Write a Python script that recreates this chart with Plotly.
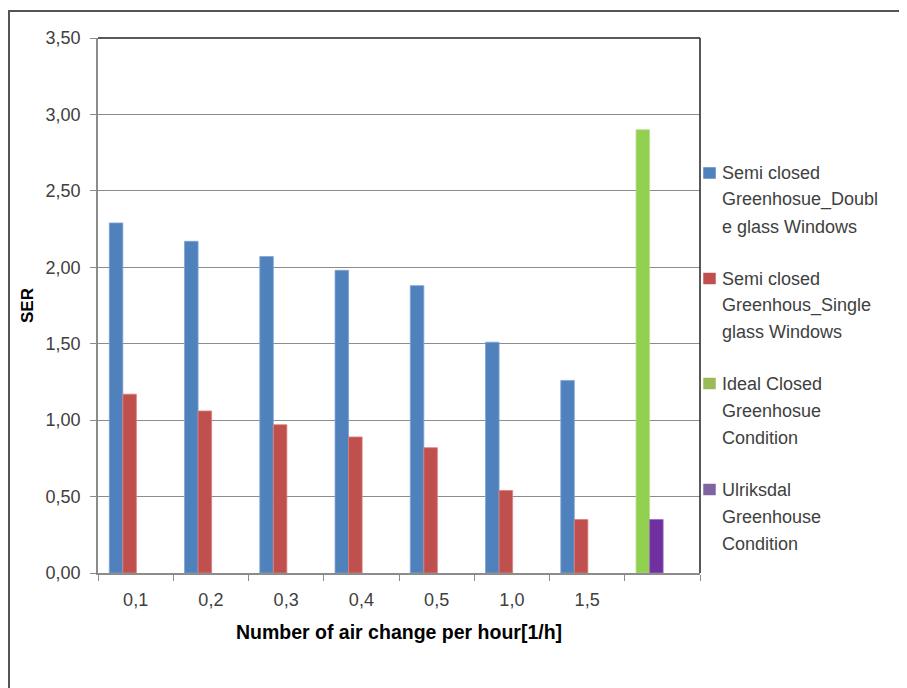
import plotly.graph_objects as go

categories = ["0,1", "0,2", "0,3", "0,4", "0,5", "1,0", "1,5", " "]
double_glass = [2.29, 2.17, 2.07, 1.98, 1.88, 1.51, 1.26, None]
single_glass = [1.17, 1.06, 0.97, 0.89, 0.82, 0.54, 0.35, None]
ideal_closed = [None, None, None, None, None, None, None, 2.90]
ulriksdal = [None, None, None, None, None, None, None, 0.35]

legend_lines = [
    ["Semi closed", "Greenhosue_Doubl", "e glass Windows"],
    ["Semi closed", "Greenhous_Single", "glass Windows"],
    ["Ideal Closed", "Greenhosue", "Condition"],
    ["Ulriksdal", "Greenhouse", "Condition"],
]
legend_colors = ["#4F81BD", "#C0504D", "#9BBB59", "#8064A2"]

# page body has an 8px margin: work in figure coordinates = page - 8
OFF = 8
W, H = 907 - OFF, 688 - OFF
L, R, T, B = 98 - OFF, 700 - OFF, 38 - OFF, 573 - OFF


def px(x):
    return (x - OFF - L) / (R - L)


def py(y):
    return (B - (y - OFF)) / (B - T)


FONT = "Liberation Sans"
TXT = "#404040"

fig = go.Figure()
series = [
    ("Semi closed Greenhosue_Double glass Windows", double_glass, "#4F81BD", "#7fa3d3", -0.35),
    ("Semi closed Greenhous_Single glass Windows", single_glass, "#C0504D", "#d98280", -0.17),
    ("Ideal Closed Greenhosue Condition", ideal_closed, "#92D050", "#b5e08a", -0.35),
    ("Ulriksdal Greenhouse Condition", ulriksdal, "#7030A0", "#9a6cc0", -0.17),
]
for name, vals, col, edge, off in series:
    fig.add_trace(go.Bar(
        x=categories, y=vals, name=name, showlegend=False,
        marker=dict(color=col, line=dict(color=edge, width=0.8)),
        offset=off, width=0.18,
    ))

shapes = [
    dict(type="line", xref="paper", yref="paper", x0=0, x1=1, y0=1, y1=1,
         line=dict(color="#222222", width=1.5)),
    dict(type="line", xref="paper", yref="paper", x0=1, x1=1, y0=0, y1=1,
         line=dict(color="#222222", width=1.5)),
    dict(type="rect", xref="paper", yref="paper", x0=px(9), x1=px(940), y0=py(11), y1=py(720),
         line=dict(color="#555555", width=2), fillcolor="rgba(0,0,0,0)"),
]
annotations = []
entry_tops = [173, 278.5, 383.5, 489.5]
for i, (lines, col) in enumerate(zip(legend_lines, legend_colors)):
    y0 = entry_tops[i]
    shapes.append(dict(type="rect", xref="paper", yref="paper",
                       x0=px(703.5), x1=px(715.5), y0=py(y0 - 5.5), y1=py(y0 + 5.5),
                       fillcolor=col, line=dict(color=col, width=0.5)))
    for j, t in enumerate(lines):
        annotations.append(dict(
            text=t, xref="paper", yref="paper", x=px(720), y=py(y0 + j * 27),
            xanchor="left", yanchor="middle", showarrow=False,
            font=dict(family=FONT, size=18, color=TXT)))

fig.update_layout(
    width=W, height=H,
    margin=dict(l=L, r=W - R, t=T, b=H - B),
    paper_bgcolor="white", plot_bgcolor="white",
    separators=",.",
    barmode="group",
    font=dict(family=FONT, size=18, color=TXT),
    shapes=shapes, annotations=annotations,
    showlegend=False,
)
fig.update_yaxes(
    range=[0, 3.5], dtick=0.5, tickformat=".2f",
    showgrid=True, gridcolor="#8c8c8c", gridwidth=1,
    showline=True, linecolor="#8c8c8c", linewidth=1.5,
    ticks="outside", ticklen=6, tickcolor="#8c8c8c", tickwidth=1,
    zeroline=False,
    ticklabelstandoff=6,
    tickfont=dict(family=FONT, size=18, color=TXT),
    title=dict(text="<b>SER</b>", font=dict(family=FONT, size=17, color="#000000"), standoff=8),
)
fig.update_xaxes(
    type="category", categoryorder="array", categoryarray=categories,
    tickson="boundaries", ticks="outside", ticklen=6, tickcolor="#8c8c8c", tickwidth=1,
    showline=True, linecolor="#8c8c8c", linewidth=1.5,
    showgrid=False,
    tickfont=dict(family=FONT, size=18, color=TXT),
    ticklabelstandoff=10,
    title=dict(text="<b>Number of air change per hour[1/h]</b>",
               font=dict(family=FONT, size=19.5, color="#000000"), standoff=16),
)

fig.write_html("out.html")
